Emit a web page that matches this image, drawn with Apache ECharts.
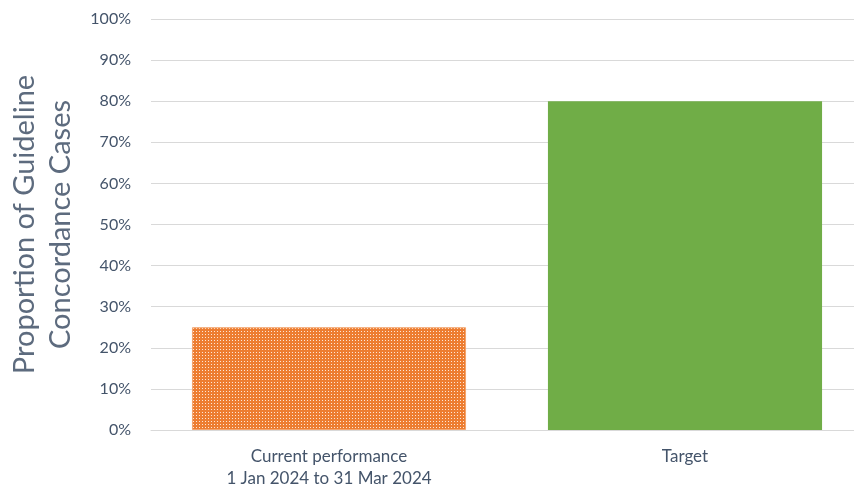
<!DOCTYPE html>
<html>
<head>
<meta charset="utf-8">
<script src="https://cdn.jsdelivr.net/npm/echarts@6/dist/echarts.min.js"></script>
<style>
  html, body { margin: 0; padding: 0; background: #fff; overflow: hidden; }
  #frame { position: relative; width: 854px; height: 488px; overflow: hidden; }
  /* plot area runs slightly past the right edge of the frame */
  #chart { position: absolute; left: 0; top: 0; width: 863px; height: 488px; }
</style>
</head>
<body>
<div id="frame"><div id="chart"></div></div>
<script>
// Guideline concordance: current performance vs target
var categories = ['Current performance\n1 Jan 2024 to 31 Mar 2024', 'Target'];
var values = [25, 80];
var barColors = ['#ed7d31', '#70ad47'];
var yTicks = [0, 10, 20, 30, 40, 50, 60, 70, 80, 90, 100];

// Dotted fill for the current performance bar
function dotPattern() {
  var c = document.createElement('canvas');
  c.width = 3; c.height = 3;
  var g = c.getContext('2d');
  g.fillStyle = '#ed7d31';
  g.fillRect(0, 0, 3, 3);
  g.fillStyle = '#fde6d6';
  g.fillRect(1, 1, 1, 1);
  return c;
}

var chart = echarts.init(document.getElementById('chart'), null, { renderer: 'canvas' });
var font = 'Lato, "Open Sans", sans-serif';

chart.setOption({
  animation: false,
  backgroundColor: '#ffffff',
  grid: { left: 151, right: 0, top: 19, bottom: 58, containLabel: false, outerBoundsMode: 'none' },
  xAxis: {
    type: 'category',
    data: categories,
    axisLine: { lineStyle: { color: '#d9d9d9', width: 1 } },
    axisTick: { show: false },
    axisLabel: { color: '#44546a', fontFamily: font, fontSize: 17, lineHeight: 22, margin: 16 }
  },
  yAxis: {
    type: 'value',
    min: yTicks[0],
    max: yTicks[yTicks.length - 1],
    interval: 10,
    name: 'Proportion of Guideline\nConcordance Cases',
    nameLocation: 'middle',
    nameRotate: 90,
    nameGap: 72,
    nameTextStyle: { color: '#5d6b7e', fontFamily: font, fontSize: 29, lineHeight: 36 },
    axisLine: { show: false },
    axisTick: { show: false },
    axisLabel: { color: '#44546a', fontFamily: font, fontSize: 16, margin: 20,
      formatter: function (v) { return v + '%'; } },
    splitLine: { lineStyle: { color: '#d9d9d9', width: 1 } }
  },
  series: [{
    type: 'bar',
    barWidth: '77%',
    data: values.map(function (v, i) {
      return {
        value: v,
        itemStyle: i === 0
          ? { color: { image: dotPattern(), repeat: 'repeat' }, borderColor: '#f3a46e', borderWidth: 1 }
          : { color: barColors[i] }
      };
    })
  }]
});
</script>
</body>
</html>
